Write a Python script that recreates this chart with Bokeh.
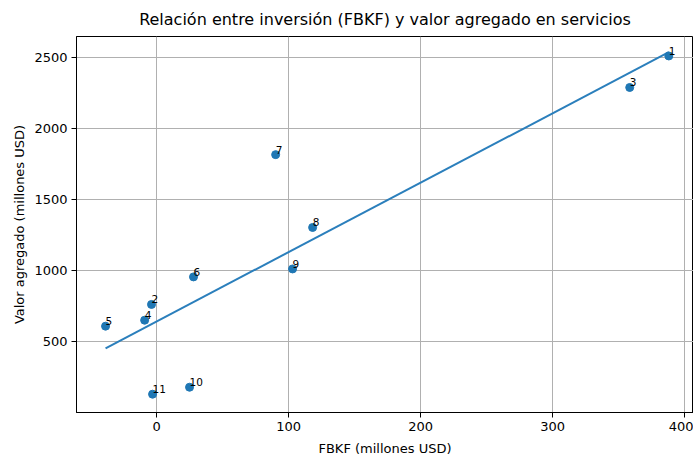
import numpy as np
from bokeh.plotting import figure
from bokeh.models import Range1d, ColumnDataSource, FixedTicker
from bokeh.embed import file_html
from bokeh.resources import INLINE

labels = ["1", "2", "3", "4", "5", "6", "7", "8", "9", "10", "11"]
fbkf = [387.9, -3.8, 358.3, -9.0, -38.6, 28.0, 90.2, 118.2, 103.0, 25.0, -3.0]
valor = [2514, 764, 2292, 653, 611, 958, 1819, 1306, 1014, 181, 132]
x_ticks = [0, 100, 200, 300, 400]
y_ticks = [500, 1000, 1500, 2000, 2500]

slope, intercept = np.polyfit(fbkf, valor, 1)
xs = np.array([min(fbkf), max(fbkf)])
ys = slope * xs + intercept

p = figure(width=693, height=458, output_backend="svg", toolbar_location=None,
           x_range=Range1d(-60.6, 406.6), y_range=Range1d(3, 2651),
           min_border_left=76, min_border_right=0, min_border_top=35, min_border_bottom=43,
           title="Relación entre inversión (FBKF) y valor agregado en servicios")
p.title.align = "center"
p.title.text_font = "DejaVu Sans"
p.title.text_font_size = "16px"
p.title.text_font_style = "normal"
p.title.text_color = "black"
p.title.standoff = 15

src = ColumnDataSource(dict(x=fbkf, y=valor, t=labels))
p.line(xs, ys, line_color="#2b7fbc", line_width=2)
p.scatter("x", "y", source=src, size=8, fill_color="#1f77b4", line_color="#1f77b4")
p.text("x", "y", text="t", source=src, text_font_size="10.5px", text_color="black",
       text_baseline="bottom", text_align="left", x_offset=0, y_offset=-1,
       text_font={"value": "DejaVu Sans"})

for ax in (p.xaxis, p.yaxis):
    ax.axis_line_color = "black"
    ax.major_tick_line_color = "black"
    ax.minor_tick_line_color = None
    ax.major_tick_out = 5
    ax.major_tick_in = 0
    ax.major_label_text_font = "DejaVu Sans"
    ax.major_label_text_font_size = "13px"
    ax.major_label_text_color = "black"
    ax.axis_label_text_font = "DejaVu Sans"
    ax.axis_label_text_font_size = "13px"
    ax.axis_label_text_font_style = "normal"
    ax.axis_label_text_color = "black"
    ax.major_label_standoff = 4
    ax.axis_label_standoff = 4

p.xaxis.ticker = FixedTicker(ticks=x_ticks)
p.yaxis.ticker = FixedTicker(ticks=y_ticks)
p.xaxis.axis_label = "FBKF (millones USD)"
p.yaxis.axis_label = "Valor agregado (millones USD)"
p.xaxis.axis_label_standoff = 7

p.grid.grid_line_color = "#b0b0b0"
p.grid.grid_line_width = 1
p.outline_line_color = "black"
p.outline_line_width = 1
p.outline_line_alpha = 1

open("out.html", "w").write(file_html(p, INLINE))
